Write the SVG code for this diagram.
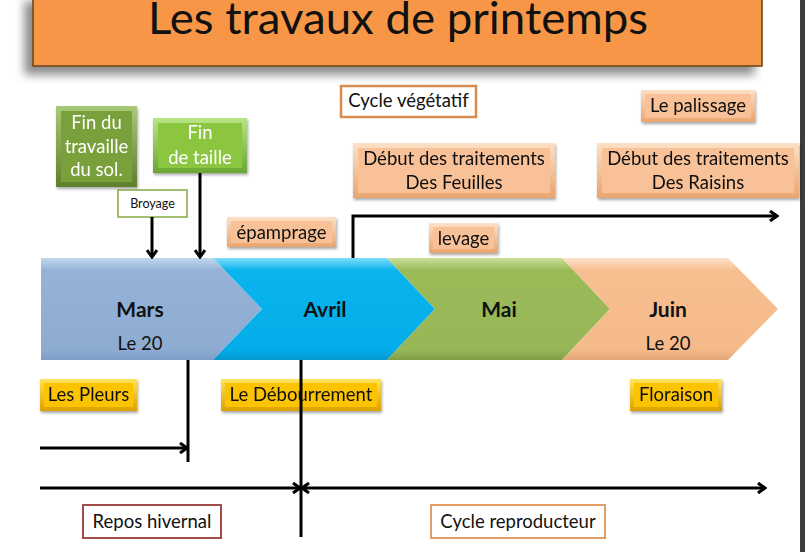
<svg xmlns="http://www.w3.org/2000/svg" width="805" height="552" viewBox="0 0 805 552">
<defs>
<style>
text{font-family:Lato,'Liberation Sans',sans-serif;fill:#111;text-anchor:middle}
.lbl{font-size:18.5px}
.wt{fill:#fff;font-size:18.5px}
.mo{font-size:21px;font-weight:bold}
.ln{stroke:#000;stroke-width:3;fill:none}
.ar{stroke:#000;stroke-width:3;fill:none;marker-end:url(#ah)}
</style>
<filter id="sh" x="-20%" y="-30%" width="140%" height="170%"><feDropShadow dx="1" dy="2" stdDeviation="1.5" flood-color="#000" flood-opacity="0.35"/></filter>
<filter id="tsh" x="-10%" y="-30%" width="120%" height="180%"><feDropShadow dx="-8" dy="8" stdDeviation="5" flood-color="#000" flood-opacity="0.45"/></filter>
<linearGradient id="gPeach" x1="0" y1="0" x2="0" y2="1"><stop offset="0" stop-color="#fde0c6"/><stop offset="1" stop-color="#e9a56e"/></linearGradient>
<linearGradient id="gGold" x1="0" y1="0" x2="0" y2="1"><stop offset="0" stop-color="#ffe45c"/><stop offset="1" stop-color="#dca000"/></linearGradient>
<linearGradient id="gGreen1" x1="0" y1="0" x2="0" y2="1"><stop offset="0" stop-color="#a9c97a"/><stop offset="1" stop-color="#5f7f2c"/></linearGradient>
<linearGradient id="gGreen2" x1="0" y1="0" x2="0" y2="1"><stop offset="0" stop-color="#b8e486"/><stop offset="1" stop-color="#6aa632"/></linearGradient>
<linearGradient id="gMars" x1="0" y1="0" x2="0" y2="1"><stop offset="0" stop-color="#c3d8f0"/><stop offset="0.12" stop-color="#95b3d7"/><stop offset="0.9" stop-color="#8eacd2"/><stop offset="1" stop-color="#7d9cc4"/></linearGradient>
<linearGradient id="gAvril" x1="0" y1="0" x2="0" y2="1"><stop offset="0" stop-color="#7fdcfb"/><stop offset="0.12" stop-color="#0cb4ee"/><stop offset="0.9" stop-color="#03ade9"/><stop offset="1" stop-color="#0596cf"/></linearGradient>
<linearGradient id="gMai" x1="0" y1="0" x2="0" y2="1"><stop offset="0" stop-color="#c9e09a"/><stop offset="0.12" stop-color="#9bbb59"/><stop offset="0.9" stop-color="#97b757"/><stop offset="1" stop-color="#7f9d45"/></linearGradient>
<linearGradient id="gJuin" x1="0" y1="0" x2="0" y2="1"><stop offset="0" stop-color="#fde2cb"/><stop offset="0.12" stop-color="#f7be90"/><stop offset="0.9" stop-color="#f5ba8a"/><stop offset="1" stop-color="#e3a677"/></linearGradient>
<marker id="ah" viewBox="0 0 10 12" refX="8" refY="6" markerWidth="10" markerHeight="12" markerUnits="userSpaceOnUse" orient="auto-start-reverse"><path d="M1,1 L8,6 L1,11" fill="none" stroke="#000" stroke-width="3"/></marker>
</defs>
<rect width="805" height="552" fill="#fff"/>
<rect x="800" y="0" width="5" height="552" fill="#3c3c3c"/>

<g id="title">
<rect x="33" y="-6" width="729" height="72" fill="#f79646" stroke="#6b3f16" stroke-width="1.5" filter="url(#tsh)"/>
<text x="398" y="34" style="font-size:44px" textLength="500" lengthAdjust="spacingAndGlyphs">Les travaux de printemps</text>
</g>

<g id="chevrons">
<g id="mars">
<polygon points="41,258 213,258 262,309 213,360 41,360" fill="url(#gMars)"/>
<text x="140" y="317" class="mo">Mars</text>
<text x="140" y="350" class="lbl">Le 20</text>
</g>
<g id="avril">
<polygon points="213,258 387,258 435,309 387,360 213,360 262,309" fill="url(#gAvril)"/>
<text x="325" y="317" class="mo">Avril</text>
</g>
<g id="mai">
<polygon points="387,258 562,258 610,309 562,360 387,360 435,309" fill="url(#gMai)"/>
<text x="499" y="317" class="mo">Mai</text>
</g>
<g id="juin">
<polygon points="562,258 728,258 778,309 728,360 562,360 610,309" fill="url(#gJuin)"/>
<text x="668" y="317" class="mo">Juin</text>
<text x="668" y="350" class="lbl">Le 20</text>
</g>
</g>

<g id="fin-sol" filter="url(#sh)">
<rect x="56" y="106" width="81" height="81" fill="url(#gGreen1)"/>
<rect x="61" y="111" width="71" height="71" fill="#79a03a"/>
<text x="96.5" y="129" class="wt">Fin du</text>
<text x="96.5" y="153" class="wt">travaille</text>
<text x="96.5" y="176" class="wt">du sol.</text>
</g>
<g id="fin-taille" filter="url(#sh)">
<rect x="153" y="118" width="94" height="55" fill="url(#gGreen2)"/>
<rect x="158" y="123" width="84" height="45" fill="#8cc63f"/>
<text x="200" y="139" class="wt">Fin</text>
<text x="200" y="164" class="wt">de taille</text>
</g>
<g id="broyage">
<rect x="118" y="190" width="69" height="27" fill="#fff" stroke="#86a846" stroke-width="1.5"/>
<text x="152.5" y="208" style="font-size:12.5px">Broyage</text>
</g>
<g id="epamprage" filter="url(#sh)">
<rect x="227" y="217" width="109" height="30" fill="url(#gPeach)"/>
<rect x="231" y="221" width="101" height="22" fill="#f8c197"/>
<text x="281.5" y="239" class="lbl">épamprage</text>
</g>
<g id="cycle-vegetatif">
<rect x="341" y="86" width="135" height="31" fill="#fff" stroke="#d98c4e" stroke-width="2.5"/>
<text x="408.5" y="107" class="lbl">Cycle végétatif</text>
</g>
<g id="palissage" filter="url(#sh)">
<rect x="641" y="90" width="114" height="32" fill="url(#gPeach)"/>
<rect x="645" y="94" width="106" height="24" fill="#f8c197"/>
<text x="698" y="112" class="lbl">Le palissage</text>
</g>
<g id="traitements-feuilles" filter="url(#sh)">
<rect x="353" y="143" width="202" height="55" fill="url(#gPeach)"/>
<rect x="358" y="148" width="192" height="45" fill="#f8c197"/>
<text x="454" y="165" class="lbl">Début des traitements</text>
<text x="454" y="189" class="lbl">Des Feuilles</text>
</g>
<g id="traitements-raisins" filter="url(#sh)">
<rect x="597" y="143" width="202" height="55" fill="url(#gPeach)"/>
<rect x="602" y="148" width="192" height="45" fill="#f8c197"/>
<text x="698" y="165" class="lbl">Début des traitements</text>
<text x="698" y="189" class="lbl">Des Raisins</text>
</g>
<g id="levage" filter="url(#sh)">
<rect x="429" y="223" width="69" height="30" fill="url(#gPeach)"/>
<rect x="433" y="227" width="61" height="22" fill="#f8c197"/>
<text x="463.5" y="245" class="lbl">levage</text>
</g>
<g id="pleurs" filter="url(#sh)">
<rect x="40" y="379" width="97" height="32" fill="url(#gGold)"/>
<rect x="44" y="383" width="89" height="24" fill="#fcc400"/>
<text x="88.5" y="401" class="lbl">Les Pleurs</text>
</g>
<g id="debourrement" filter="url(#sh)">
<rect x="221" y="379" width="160" height="32" fill="url(#gGold)"/>
<rect x="225" y="383" width="152" height="24" fill="#fcc400"/>
<text x="301" y="401" class="lbl">Le Débourrement</text>
</g>
<g id="floraison" filter="url(#sh)">
<rect x="630" y="379" width="92" height="32" fill="url(#gGold)"/>
<rect x="634" y="383" width="84" height="24" fill="#fcc400"/>
<text x="676" y="401" class="lbl">Floraison</text>
</g>
<g id="repos">
<rect x="83" y="505" width="138" height="33" fill="#fff" stroke="#a14c4a" stroke-width="2"/>
<text x="152" y="528" class="lbl">Repos hivernal</text>
</g>
<g id="cycle-reproducteur">
<rect x="431" y="505" width="174" height="33" fill="#fff" stroke="#e39f63" stroke-width="2"/>
<text x="518" y="528" class="lbl">Cycle reproducteur</text>
</g>

<g id="connectors">
<path class="ar" d="M152,217 V257"/>
<path class="ar" d="M200,173 V257"/>
<path class="ar" d="M353,258 V216 H777"/>
<path class="ln" d="M188,360 V462"/>
<path class="ar" d="M40,448 H187"/>
<path class="ln" d="M301,360 V537"/>
<path class="ar" d="M40,488 H300"/>
<path class="ar" d="M302,488 H765" style="marker-start:url(#ah)"/>
</g>
</svg>
